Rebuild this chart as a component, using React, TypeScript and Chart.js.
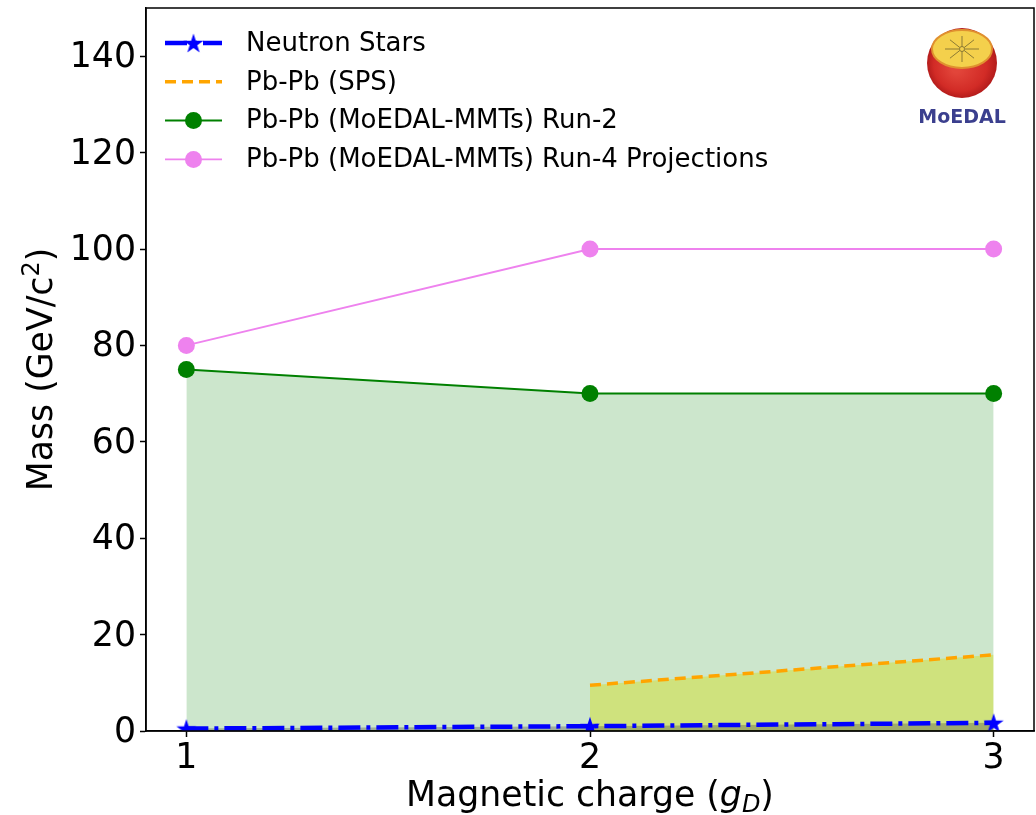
import { useEffect, useRef } from "react";
import { Chart, registerables } from "chart.js";

Chart.register(...registerables);

// Magnetic monopole mass limits versus magnetic charge
const charges = [1, 2, 3];
const neutronStarMass = [0.5, 1.0, 1.7];
const spsCharges = [2, 3];
const spsMass = [9.5, 15.8];
const run2Mass = [75, 70, 70];
const run4Mass = [80, 100, 100];

const xTickValues = [1, 2, 3];
const yTickValues = [0, 20, 40, 60, 80, 100, 120, 140];

const seriesLabels = [
  "Neutron Stars",
  "Pb-Pb (SPS)",
  "Pb-Pb (MoEDAL-MMTs) Run-2",
  "Pb-Pb (MoEDAL-MMTs) Run-4 Projections",
];

const FONT = '"DejaVu Sans", "Liberation Sans", sans-serif';
const TICK_SIZE = 34.7;
const LEGEND_SIZE = 26;

function makeStar(size: number, color: string): HTMLCanvasElement {
  const c = document.createElement("canvas");
  c.width = size;
  c.height = size;
  const ctx = c.getContext("2d")!;
  const R = size / 2 - 0.5;
  const r = R * 0.382;
  const cx = size / 2;
  const cy = size / 2 + R * 0.1;
  ctx.beginPath();
  for (let i = 0; i < 10; i++) {
    const rad = i % 2 === 0 ? R : r;
    const a = -Math.PI / 2 + (i * Math.PI) / 5;
    ctx.lineTo(cx + rad * Math.cos(a), cy + rad * Math.sin(a));
  }
  ctx.closePath();
  ctx.fillStyle = color;
  ctx.fill();
  return c;
}

type Part = { text: string; font: string; dy?: number };

function drawParts(ctx: CanvasRenderingContext2D, parts: Part[], cx: number, baseline: number) {
  let total = 0;
  for (const p of parts) {
    ctx.font = p.font;
    total += ctx.measureText(p.text).width;
  }
  let x = cx - total / 2;
  ctx.textAlign = "left";
  ctx.textBaseline = "alphabetic";
  for (const p of parts) {
    ctx.font = p.font;
    ctx.fillText(p.text, x, baseline + (p.dy || 0));
    x += ctx.measureText(p.text).width;
  }
}

const decorations = {
  id: "decorations",
  afterDraw(chart: any) {
    const ctx: CanvasRenderingContext2D = chart.ctx;
    const area = chart.chartArea;
    ctx.save();

    // axes frame
    ctx.strokeStyle = "#000";
    ctx.lineWidth = 1.5;
    ctx.setLineDash([]);
    ctx.strokeRect(area.left, area.top, area.right - area.left, area.bottom - area.top);

    // axis titles
    ctx.fillStyle = "#000";
    const cx = (area.left + area.right) / 2;
    drawParts(
      ctx,
      [
        { text: "Magnetic charge (", font: `${TICK_SIZE}px ${FONT}` },
        { text: "g", font: `italic ${TICK_SIZE}px ${FONT}` },
        { text: "D", font: `italic 24px ${FONT}`, dy: 6 },
        { text: ")", font: `${TICK_SIZE}px ${FONT}` },
      ],
      cx,
      806
    );
    ctx.save();
    ctx.translate(52, (area.top + area.bottom) / 2);
    ctx.rotate(-Math.PI / 2);
    drawParts(
      ctx,
      [
        { text: "Mass (GeV/c", font: `${TICK_SIZE}px ${FONT}` },
        { text: "2", font: `24px ${FONT}`, dy: -13 },
        { text: ")", font: `${TICK_SIZE}px ${FONT}` },
      ],
      0,
      0
    );
    ctx.restore();

    // legend
    const x0 = 165;
    const x1 = 222;
    chart.data.datasets.forEach((ds: any, i: number) => {
      const y = 43 + i * 38.8;
      ctx.save();
      ctx.strokeStyle = ds.borderColor;
      ctx.lineWidth = ds.borderWidth;
      ctx.setLineDash(ds.borderDash || []);
      ctx.beginPath();
      ctx.moveTo(x0, y);
      ctx.lineTo(x1, y);
      ctx.stroke();
      ctx.setLineDash([]);
      const mx = (x0 + x1) / 2;
      if (ds.pointStyle instanceof HTMLCanvasElement) {
        const img = ds.pointStyle as HTMLCanvasElement;
        ctx.drawImage(img, mx - img.width / 2, y - img.height / 2);
      } else if (ds.pointRadius > 0) {
        ctx.fillStyle = ds.pointBackgroundColor;
        ctx.beginPath();
        ctx.arc(mx, y, ds.pointRadius, 0, Math.PI * 2);
        ctx.fill();
      }
      ctx.restore();
      ctx.fillStyle = "#000";
      ctx.font = `${LEGEND_SIZE}px ${FONT}`;
      ctx.textAlign = "left";
      ctx.textBaseline = "middle";
      ctx.fillText(ds.label, 246, y + 1);
    });

    // MoEDAL logo
    const lx = 962;
    const ly = 63;
    const grad = ctx.createRadialGradient(lx - 6, ly + 6, 4, lx, ly, 36);
    grad.addColorStop(0, "#e2453a");
    grad.addColorStop(0.7, "#d22b26");
    grad.addColorStop(1, "#b01a1a");
    ctx.fillStyle = grad;
    ctx.beginPath();
    ctx.arc(lx, ly, 35, 0, Math.PI * 2);
    ctx.fill();
    ctx.fillStyle = "#f4d04c";
    ctx.strokeStyle = "#e0902f";
    ctx.lineWidth = 2;
    ctx.beginPath();
    ctx.ellipse(lx, ly - 14, 30, 19, 0, 0, Math.PI * 2);
    ctx.fill();
    ctx.stroke();
    ctx.strokeStyle = "#8c7b34";
    ctx.lineWidth = 1;
    for (let k = 0; k < 8; k++) {
      const a = (k * Math.PI) / 4;
      const ex = lx + Math.cos(a) * 17;
      const ey = ly - 14 + Math.sin(a) * 13;
      ctx.beginPath();
      ctx.moveTo(lx + Math.cos(a) * 3, ly - 14 + Math.sin(a) * 2);
      ctx.lineTo(ex, ey);
      ctx.stroke();
    }
    ctx.beginPath();
    ctx.arc(lx, ly - 14, 2.5, 0, Math.PI * 2);
    ctx.stroke();
    ctx.fillStyle = "#3b3f8e";
    ctx.font = `bold 19px ${FONT}`;
    ctx.textAlign = "center";
    ctx.textBaseline = "alphabetic";
    ctx.fillText("MoEDAL", lx, 123);

    ctx.restore();
  },
};

export default function App() {
  const ref = useRef<HTMLCanvasElement>(null);

  useEffect(() => {
    const star = makeStar(22, "#0000ff");
    const chart = new Chart(ref.current!, {
      type: "line",
      data: {
        datasets: [
          {
            label: seriesLabels[0],
            data: charges.map((x, i) => ({ x, y: neutronStarMass[i] })),
            borderColor: "#0000ff",
            borderWidth: 4.5,
            borderDash: [22, 6, 4, 6],
            pointStyle: star as any,
            pointRadius: 10,
            fill: "origin",
            backgroundColor: "rgba(70,70,70,0.35)",
          },
          {
            label: seriesLabels[1],
            data: spsCharges.map((x, i) => ({ x, y: spsMass[i] })),
            borderColor: "#ffa500",
            borderWidth: 3.5,
            borderDash: [11, 6],
            pointRadius: 0,
            fill: "origin",
            backgroundColor: "rgba(210,222,0,0.39)",
          },
          {
            label: seriesLabels[2],
            data: charges.map((x, i) => ({ x, y: run2Mass[i] })),
            borderColor: "#008000",
            borderWidth: 2,
            pointRadius: 8.5,
            pointBackgroundColor: "#008000",
            pointBorderWidth: 0,
            fill: "origin",
            backgroundColor: "rgba(0,128,0,0.2)",
          },
          {
            label: seriesLabels[3],
            data: charges.map((x, i) => ({ x, y: run4Mass[i] })),
            borderColor: "#ee82ee",
            borderWidth: 1.8,
            pointRadius: 8.5,
            pointBackgroundColor: "#ee82ee",
            pointBorderWidth: 0,
            fill: false,
          },
        ] as any,
      },
      options: {
        animation: false,
        responsive: false,
        devicePixelRatio: 1,
        layout: { autoPadding: false, padding: { top: 8, right: 2, left: 0, bottom: 0 } },
        plugins: {
          legend: { display: false },
          tooltip: { enabled: false },
        },
        elements: { line: { tension: 0 } },
        scales: {
          x: {
            type: "linear",
            min: 0.9,
            max: 3.1,
            afterBuildTicks: (s: any) => {
              s.ticks = xTickValues.map((v) => ({ value: v }));
            },
            afterFit: (s: any) => {
              s.height = 84;
              s.paddingLeft = 0;
              s.paddingRight = 0;
            },
            ticks: {
              font: { size: TICK_SIZE, family: FONT },
              color: "#000",
              padding: 1,
              maxRotation: 0,
              autoSkip: false,
              callback: (v: any) => String(v),
            },
            grid: { drawOnChartArea: false, tickLength: 6, tickWidth: 1.5, tickColor: "#000" },
            border: { color: "#000", width: 1.5 },
          },
          y: {
            type: "linear",
            min: 0,
            max: 150,
            afterBuildTicks: (s: any) => {
              s.ticks = yTickValues.map((v) => ({ value: v }));
            },
            afterFit: (s: any) => {
              s.width = 146;
              s.paddingTop = 0;
              s.paddingBottom = 0;
            },
            ticks: {
              font: { size: TICK_SIZE, family: FONT },
              color: "#000",
              padding: 4,
              labelOffset: 2,
              autoSkip: false,
              callback: (v: any) => String(v),
            },
            grid: { drawOnChartArea: false, tickLength: 6, tickWidth: 1.5, tickColor: "#000" },
            border: { color: "#000", width: 1.5 },
          },
        },
      } as any,
      plugins: [decorations],
    });
    return () => chart.destroy();
  }, []);

  return (
    <div style={{ position: "absolute", left: 0, top: 0, width: 1036, height: 815, background: "#fff" }}>
      <canvas ref={ref} width={1036} height={815} style={{ display: "block" }} />
    </div>
  );
}
